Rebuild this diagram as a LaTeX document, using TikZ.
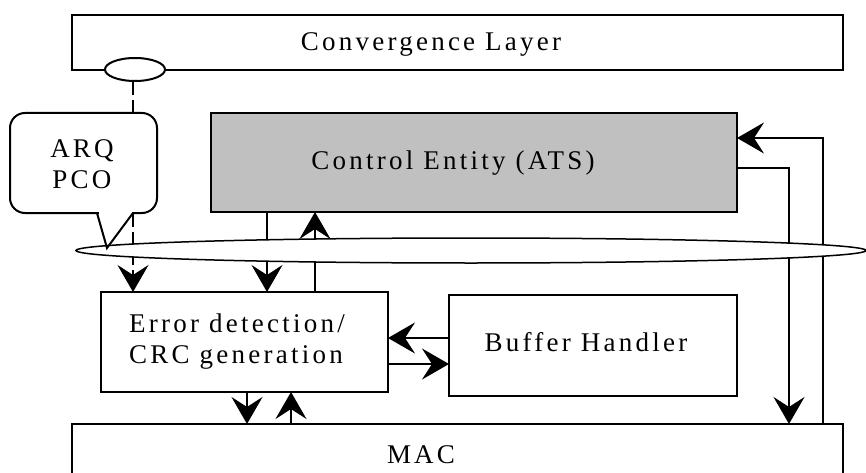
\documentclass[tikz,border=0pt]{standalone}
\usepackage{fontspec}
\setmainfont{Liberation Serif}[LetterSpace=12]
\usetikzlibrary{arrows.meta,shapes.geometric}
\definecolor{ctrlgray}{RGB}{192,192,192}
\begin{document}
\begin{tikzpicture}[x=1pt,y=-1pt, line width=2pt,
  box/.style={draw, line width=2pt, inner sep=0pt, outer sep=0pt},
  lbl/.style={font=\fontsize{27}{31}\selectfont, inner sep=0pt},
  arr/.style={-{Stealth[length=27pt,width=31pt,inset=10pt]}, line width=2pt},
  dashline/.style={dash pattern=on 14pt off 5pt},
]
\useasboundingbox (0,0) rectangle (866,473);
% boxes
\node[box, minimum width=771pt, minimum height=55pt] (conv) at (457.5,42.5) {};
\node[box, fill=ctrlgray, minimum width=526pt, minimum height=99pt] (ctrl) at (474,162.5) {};
\node[box, minimum width=287pt, minimum height=100pt] (err) at (244.5,342) {};
\node[box, minimum width=288pt, minimum height=101pt] (buf) at (593,345.5) {};
\node[box, minimum width=771pt, minimum height=90pt] (mac) at (457.5,469) {};
\node[box, rounded corners=15pt, fill=white, minimum width=147pt, minimum height=100pt] (arqbox) at (83.5,163) {};
% labels
\node[lbl, anchor=base] (convt) at (431,51) {Convergence Layer};
\node[lbl, anchor=base] (ctrlt) at (453,169) {Control Entity (ATS)};
\node[lbl, anchor=base] (buft) at (586,351) {Buffer Handler};
\node[lbl, anchor=base] (mact) at (421,463) {MAC};
\node[lbl, align=left] (errt) at (237,342) {Error detection/\\CRC generation};
\node[lbl, align=center] (arqt) at (82,164) {ARQ\\PCO};
% connectors
\draw[dashline] (133,81) -- ([xshift=49.5pt]arqbox.north);
\draw[arr, dashline] ([xshift=49.5pt]arqbox.south) -- ([xshift=-111.5pt]err.north);
\draw[arr] ([xshift=-207pt]ctrl.south) -- ([xshift=22.5pt]err.north);
\draw[arr] ([xshift=70.5pt]err.north) -- ([xshift=-159pt]ctrl.south);
\draw[arr] ([yshift=7.5pt]buf.west) -- ([yshift=4pt]err.east);
\draw[arr] ([yshift=-22pt]err.east) -- ([yshift=-18.5pt]buf.west);
\draw[arr] ([xshift=2.5pt]err.south) -- ([xshift=-210.5pt]mac.north);
\draw[arr] ([xshift=-166.5pt]mac.north) -- ([xshift=46.5pt]err.south);
\draw[arr] ([yshift=-5.5pt]ctrl.east) -| ([xshift=331.5pt]mac.north);
\draw[arr] ([xshift=365.5pt]mac.north) |- ([yshift=24.5pt]ctrl.east);
% bus ellipse
\node[ellipse, draw, fill=white, line width=1.5pt, inner sep=0pt, minimum width=790pt, minimum height=25pt] (bus) at (471,250.5) {};
% callout pointer
\fill[white] (98.5,211) rectangle (131.5,215);
\draw[line width=2pt, line join=miter] ([xshift=13.5pt]arqbox.south) -- (107,248) -- ([xshift=49.5pt]arqbox.south);
% SAP ellipse
\node[ellipse, draw, fill=white, line width=2pt, inner sep=0pt, minimum width=60pt, minimum height=23pt] (sap) at (135,69.5) {};
\end{tikzpicture}
\end{document}
